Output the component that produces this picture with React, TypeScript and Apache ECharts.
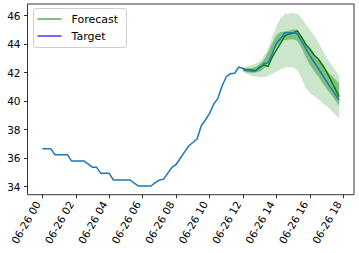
import React, { useEffect, useRef } from "react";
import * as echarts from "echarts";

// x tick positions (hours on 06-26) and y ticks
const xTickHours = [0, 2, 4, 6, 8, 10, 12, 14, 16, 18];
const yTickValues = [34, 36, 38, 40, 42, 44, 46];

// observed target, every 15 minutes from 06-26 00:00 to 17:45
const targetValues = [
  36.67, 36.67, 36.67, 36.25, 36.25, 36.25, 36.25, 35.8,
  35.8, 35.8, 35.8, 35.58, 35.36, 35.36, 34.94, 34.94,
  34.94, 34.47, 34.47, 34.47, 34.47, 34.47, 34.25, 34.05,
  34.05, 34.05, 34.05, 34.29, 34.47, 34.52, 34.95, 35.35,
  35.56, 36.0, 36.43, 36.86, 37.1, 37.35, 38.26, 38.68,
  39.14, 39.8, 40.2, 41.07, 41.72, 41.93, 41.96, 42.4,
  42.3, 42.15, 42.12, 42.12, 42.33, 42.65, 42.68, 43.33,
  44.08, 44.4, 44.8, 44.8, 44.8, 44.73, 44.22, 43.7,
  43.2, 42.75, 42.3, 41.84, 41.38, 40.93, 40.5, 40.07,
];

// forecast, every 15 minutes from 12:00 to 17:45
const forecastMedian = [
  42.22, 42.19, 42.19, 42.15, 42.4, 42.54, 42.43, 43.1,
  43.6, 44.08, 44.58, 44.72, 44.79, 44.93, 44.5, 44.0,
  43.66, 43.24, 42.96, 42.54, 42.05, 41.49, 40.9, 40.3,
];
const band90Upper = [
  42.38, 42.47, 42.54, 42.65, 42.79, 43.17, 43.66, 44.5,
  45.28, 45.84, 46.12, 46.15, 46.21, 46.12, 45.84, 45.42,
  45.03, 44.61, 44.15, 43.63, 43.03, 42.61, 42.19, 41.77,
];
const band90Lower = [
  42.07, 41.91, 41.77, 41.73, 41.7, 41.7, 41.77, 41.91,
  42.08, 42.22, 42.36, 42.4, 42.36, 42.19, 41.63, 40.93,
  40.58, 40.36, 40.15, 39.87, 39.66, 39.38, 39.07, 38.8,
];
const band50Upper = [
  42.33, 42.31, 42.33, 42.4, 42.61, 42.89, 43.45, 44.08,
  44.65, 44.86, 44.89, 44.96, 45.03, 45.03, 44.58, 44.08,
  43.59, 43.24, 42.86, 42.5, 42.15, 41.84, 41.56, 41.26,
];
const band50Lower = [
  42.12, 42.01, 42.0, 42.0, 42.08, 42.26, 42.75, 43.31,
  43.82, 44.15, 44.29, 44.33, 44.34, 44.22, 43.73, 43.1,
  42.54, 42.12, 41.73, 41.28, 40.86, 40.5, 40.08, 39.66,
];
const forecastStartHour = 12;
const stepHours = 0.25;

const FONT = "DejaVu Sans";

function bandSeries(lo: number[], hi: number[], fill: string, name: string) {
  const hours = lo.map((_, i) => forecastStartHour + i * stepHours);
  return {
    type: "custom",
    name,
    silent: true,
    z: 1,
    data: hours.map((h, i) => [h, lo[i], hi[i]]),
    encode: { x: 0, y: [1, 2] },
    renderItem: (params: any, api: any) => {
      if (params.dataIndex !== 0) return null;
      const pts: number[][] = [];
      for (let i = 0; i < hours.length; i++) pts.push(api.coord([hours[i], hi[i]]));
      for (let i = hours.length - 1; i >= 0; i--) pts.push(api.coord([hours[i], lo[i]]));
      return { type: "polygon", shape: { points: pts }, style: { fill } };
    },
  };
}

export default function App() {
  const ref = useRef<HTMLDivElement>(null);
  useEffect(() => {
    if (!ref.current) return;
    const chart = echarts.init(ref.current, undefined, { renderer: "svg" });
    const targetData = targetValues.map((v, i) => [i * stepHours, v]);
    const forecastData = forecastMedian.map((v, i) => [forecastStartHour + i * stepHours, v]);
    chart.setOption({
      animation: false,
      backgroundColor: "#ffffff",
      grid: {
        left: 27.5,
        right: 5,
        top: 4,
        bottom: 58.3,
        show: true,
        borderColor: "#000",
        borderWidth: 0.8,
        backgroundColor: "transparent",
      },
      xAxis: {
        type: "value",
        min: -0.8875,
        max: 18.6375,
        axisLine: { show: false, onZero: false },
        splitLine: { show: false },
        axisTick: {
          show: true,
          length: 3.5,
          customValues: xTickHours,
          lineStyle: { color: "#000", width: 0.8 },
        },
        axisLabel: {
          customValues: xTickHours,
          rotate: 60,
          margin: 10,
          verticalAlign: "bottom",
          fontFamily: FONT,
          fontSize: 10.5,
          color: "#000",
          formatter: (v: number) => "06-26 " + String(v).padStart(2, "0"),
        },
      },
      yAxis: {
        type: "value",
        min: 33.44,
        max: 46.82,
        axisLine: { show: false, onZero: false },
        splitLine: { show: false },
        axisTick: {
          show: true,
          length: 3.5,
          customValues: yTickValues,
          lineStyle: { color: "#000", width: 0.8 },
        },
        axisLabel: {
          customValues: yTickValues,
          margin: 7,
          fontFamily: FONT,
          fontSize: 10.5,
          color: "#000",
        },
      },
      graphic: [
        {
          type: "group",
          z: 100,
          children: [
            {
              type: "rect",
              shape: { x: 33.5, y: 8.5, width: 93, height: 39, r: 2 },
              style: { fill: "rgba(255,255,255,0.8)", stroke: "#d0d0d0", lineWidth: 1 },
            },
            {
              type: "line",
              shape: { x1: 37.5, y1: 19, x2: 61.5, y2: 19 },
              style: { stroke: "#008000", lineWidth: 1 },
            },
            {
              type: "text",
              x: 71.5,
              y: 19,
              style: {
                text: "Forecast",
                fontFamily: FONT,
                fontSize: 11,
                fill: "#000",
                verticalAlign: "middle",
              },
            },
            {
              type: "line",
              shape: { x1: 37.5, y1: 36, x2: 61.5, y2: 36 },
              style: { stroke: "#6f6fff", lineWidth: 2 },
            },
            {
              type: "text",
              x: 71.5,
              y: 36,
              style: {
                text: "Target",
                fontFamily: FONT,
                fontSize: 11,
                fill: "#000",
                verticalAlign: "middle",
              },
            },
          ],
        },
      ],
      series: [
        bandSeries(band90Lower, band90Upper, "rgba(0,128,0,0.2)", "90%"),
        bandSeries(band50Lower, band50Upper, "rgba(0,128,0,0.38)", "50%"),
        {
          type: "line",
          name: "Forecast",
          data: forecastData,
          showSymbol: false,
          z: 3,
          lineStyle: { color: "#008000", width: 1.5 },
        },
        {
          type: "line",
          name: "Target",
          data: targetData,
          showSymbol: false,
          z: 4,
          lineStyle: { color: "#1f77b4", width: 1.5 },
        },
      ],
    });
    return () => chart.dispose();
  }, []);
  return (
    <div
      ref={ref}
      style={{ position: "absolute", left: 0, top: 0, width: 359, height: 253 }}
    />
  );
}
